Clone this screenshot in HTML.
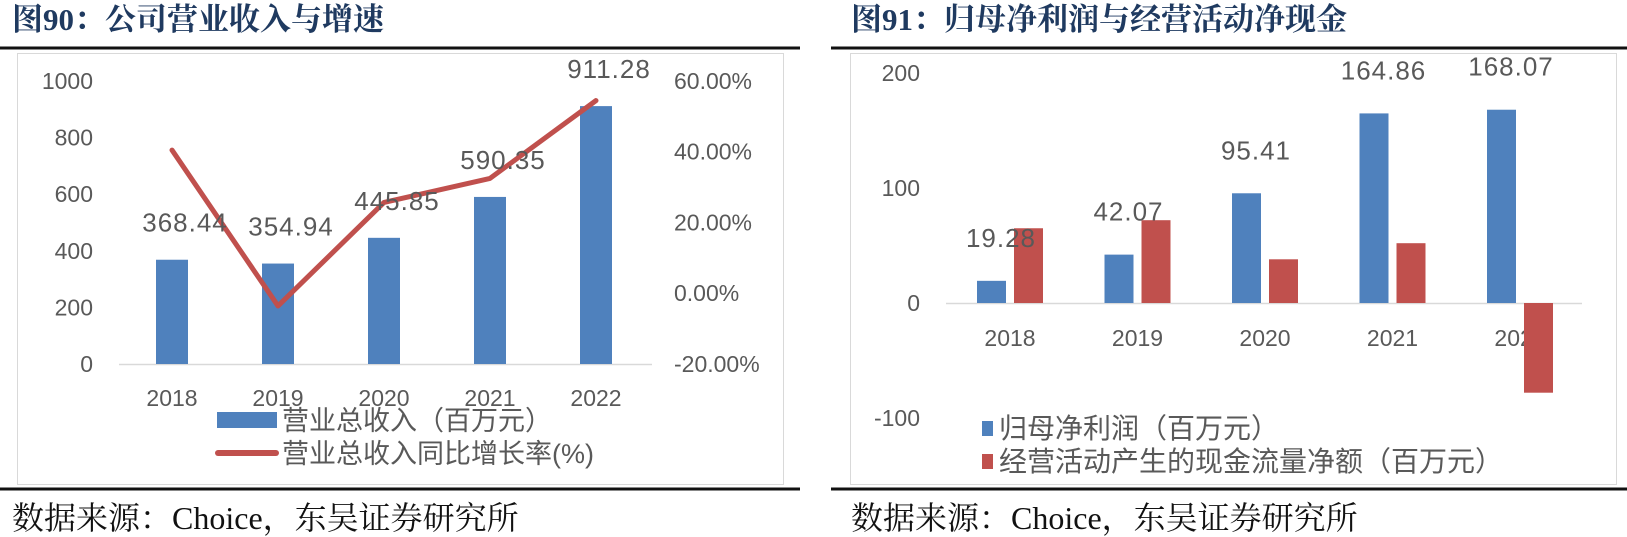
<!DOCTYPE html>
<html><head><meta charset="utf-8"><style>
html,body{margin:0;padding:0;background:#fff;}
body{width:1627px;height:537px;overflow:hidden;position:relative;}
svg{position:absolute;left:0;top:0;}
.t{font-family:"Liberation Sans","Noto Sans CJK SC",sans-serif;fill:#595959;font-size:23px;}
.d{font-size:26px;letter-spacing:1px;}
.lg1{font-size:27px;}
.lg2{font-size:28px;}
.title{font-family:"Liberation Serif","Noto Serif CJK SC",serif;font-weight:bold;fill:#1f3a60;font-size:31px;}
.foot{font-family:"Liberation Serif","Noto Serif CJK SC",serif;fill:#111;font-size:32px;}
</style></head><body>
<svg id="s" width="1627" height="537">
<text class="title" x="12" y="30">图90：公司营业收入与增速</text>
<text class="title" x="851" y="30">图91：归母净利润与经营活动净现金</text>
<rect x="0" y="46.5" width="800" height="3" fill="#111"/>
<rect x="831" y="46.5" width="796" height="3" fill="#111"/>
<rect x="0" y="487.5" width="800" height="3" fill="#111"/>
<rect x="831" y="487.5" width="796" height="3" fill="#111"/>
<rect x="17.5" y="53.5" width="766" height="431" fill="none" stroke="#d9d9d9"/>
<rect x="850.5" y="53.5" width="766" height="431" fill="none" stroke="#d9d9d9"/>
<text class="foot" x="12" y="529">数据来源：Choice，东吴证券研究所</text>
<text class="foot" x="851" y="529">数据来源：Choice，东吴证券研究所</text>
<g id="L"></g><g id="R"></g>
</svg>
<script>
const years=["2018","2019","2020","2021","2022"];
const revenue=[368.44,354.94,445.85,590.35,911.28];
const growth=[40.4,-3.66,25.6,32.4,54.4];
const leftTicks=[0,200,400,600,800,1000];
const rightTicks=[-20,0,20,40,60];
const netProfit=[19.28,42.07,95.41,164.86,168.07];
const opCash=[65,72,38,52,-78];
const r2Ticks=[-100,0,100,200];
const NS="http://www.w3.org/2000/svg";
function mk(p,tag,a,txt){const e=document.createElementNS(NS,tag);for(const k in a)e.setAttribute(k,a[k]);if(txt!==undefined)e.textContent=txt;p.appendChild(e);return e;}
// left chart
const L=document.getElementById('L');
const yL=v=>364-v*0.283, yP=v=>293-v*3.5375, xL=i=>172+i*106;
leftTicks.forEach(v=>{const e=mk(L,'text',{class:'t',x:93,y:yL(v)+8,'text-anchor':'end'},String(v));
});
rightTicks.forEach(v=>{const e=mk(L,'text',{class:'t',x:674,y:yP(v)+8},v.toFixed(2)+'%');
});
let ax=mk(L,'line',{x1:119,x2:652,y1:364.5,y2:364.5,stroke:'#d9d9d9','stroke-width':1.5});

years.forEach((y,i)=>{
 const b=mk(L,'rect',{x:xL(i)-16,y:yL(revenue[i]),width:32,height:364-yL(revenue[i]),fill:'#4f81bd'});
 
 const t=mk(L,'text',{class:'t',x:xL(i),y:398+8,'text-anchor':'middle'},y);
 
});
const pts=growth.map((g,i)=>xL(i)+','+yP(g)).join(' ');
const pl=mk(L,'polyline',{points:pts,fill:'none',stroke:'#c0504d','stroke-width':5,'stroke-linejoin':'round','stroke-linecap':'round'});

years.forEach((y,i)=>{
 const t=mk(L,'text',{class:'t d',x:xL(i)+13,y:yL(revenue[i])-28,'text-anchor':'middle'},revenue[i].toFixed(2));
 
});
let lr=mk(L,'rect',{x:217,y:412,width:60,height:16,fill:'#4f81bd'});

let lt=mk(L,'text',{class:'t lg1',x:282,y:430},'营业总收入（百万元）');

let ll=mk(L,'line',{x1:218,x2:276,y1:453,y2:453,stroke:'#c0504d','stroke-width':6,'stroke-linecap':'round'});

let lt2=mk(L,'text',{class:'t lg1',x:282,y:463},'营业总收入同比增长率(%)');

// right chart
const R=document.getElementById('R');
const yR=v=>303-v*1.15, xR=i=>1010+i*127.5;
r2Ticks.forEach(v=>{const e=mk(R,'text',{class:'t',x:920,y:yR(v)+8,'text-anchor':'end'},String(v));
});
let ax2=mk(R,'line',{x1:946,x2:1582,y1:303.5,y2:303.5,stroke:'#d9d9d9','stroke-width':1.5});

years.forEach((y,i)=>{
 const t=mk(R,'text',{class:'t',x:xR(i),y:338+8,'text-anchor':'middle'},y);
 
});
years.forEach((y,i)=>{
 const v=netProfit[i];
 const b=mk(R,'rect',{x:xR(i)-33,y:yR(Math.max(v,0)),width:29,height:Math.abs(v)*1.15,fill:'#4f81bd'});
 
 const c=opCash[i];
 const r=mk(R,'rect',{x:xR(i)+4,y:yR(Math.max(c,0)),width:29,height:Math.abs(c)*1.15,fill:'#c0504d'});
 
 const t=mk(R,'text',{class:'t d',x:xR(i)-9,y:yR(v)-34,'text-anchor':'middle'},v.toFixed(2));
 
});
let rs=mk(R,'rect',{x:982,y:421,width:11,height:15,fill:'#4f81bd'});

let rt=mk(R,'text',{class:'t lg2',x:999,y:438},'归母净利润（百万元）');

let rs2=mk(R,'rect',{x:982,y:454,width:11,height:15,fill:'#c0504d'});

let rt2=mk(R,'text',{class:'t lg2',x:999,y:471},'经营活动产生的现金流量净额（百万元）');

</script>
</body></html>
